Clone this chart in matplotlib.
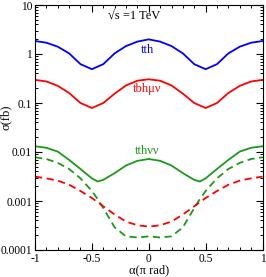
import numpy as np
import matplotlib
matplotlib.use("Agg")
import matplotlib.pyplot as plt
from matplotlib.ticker import MultipleLocator, LogLocator, NullFormatter, FixedLocator, FixedFormatter

plt.rcParams['font.family'] = ['Liberation Serif', 'DejaVu Serif']

# upper curves, sampled every 0.1
alpha_a_half = [-1.0, -0.9, -0.8, -0.7, -0.6, -0.5, -0.4, -0.3, -0.2, -0.1, 0.0]
tth_half = [1.84, 1.70, 1.41, 1.03, 0.62, 0.49, 0.62, 1.03, 1.45, 1.79, 1.99]
tbh_half = [0.297, 0.275, 0.224, 0.160, 0.100, 0.079, 0.100, 0.155, 0.228, 0.285, 0.305]

# lower curves
alpha_b_half = [-1.0, -0.9, -0.8, -0.7, -0.6, -0.5, -0.45, -0.4, -0.3, -0.2, -0.1, 0.0]
tthvv_half = [0.0131, 0.0122, 0.0102, 0.0069, 0.0045, 0.0029, 0.0025, 0.0027, 0.0037, 0.0053, 0.0066, 0.0072]
green_dash_half = [0.0078, 0.0072, 0.0060, 0.0045, 0.0029, 0.0016, 0.0011, 0.00072, 0.00029, 0.00019, 0.00018, 0.00019]
red_dash_half = [0.00314, 0.0029, 0.0026, 0.00215, 0.0016, 0.00115, 0.00095, 0.00078, 0.00053, 0.00038, 0.00032, 0.00030]

def mirror(a, sign=1):
    return list(a) + [sign * v for v in a[-2::-1]]

alpha_a = mirror(alpha_a_half, -1)
alpha_b = mirror(alpha_b_half, -1)
tth = mirror(tth_half)
tbh = mirror(tbh_half)
tthvv = mirror(tthvv_half)
green_dash = mirror(green_dash_half)
red_dash = mirror(red_dash_half)

fig = plt.figure(figsize=(2.66, 2.77), dpi=100)
ax = fig.add_axes([35/266, 27/277, 227.5/266, 245/277])

blue = '#0000ff'
red = '#ff0000'
green = '#1a9a1a'
lw = 1.3
ax.plot(alpha_a, tth, color=blue, lw=lw)
ax.plot(alpha_a, tbh, color=red, lw=lw)
ax.plot(alpha_b, tthvv, color=green, lw=lw)
ax.plot(alpha_b, green_dash, color=green, lw=lw, dashes=(4, 2.5))
ax.plot(alpha_b, red_dash, color=red, lw=lw, dashes=(4, 2.5))

ax.set_yscale('log')
ax.set_xlim(-1, 1)
ax.set_ylim(1e-4, 10)

ax.xaxis.set_major_locator(FixedLocator([-1, -0.5, 0, 0.5, 1]))
ax.xaxis.set_major_formatter(FixedFormatter(['-1', '-0.5', '0', '0.5', '1']))
ax.xaxis.set_minor_locator(MultipleLocator(0.1))
ax.yaxis.set_major_locator(FixedLocator([1e-4, 1e-3, 1e-2, 1e-1, 1, 10]))
ax.yaxis.set_major_formatter(FixedFormatter(['0.0001', '0.001', '0.01', '0.1', '1', '10']))
ax.yaxis.set_minor_locator(LogLocator(base=10, subs=np.arange(2, 10), numticks=20))
ax.yaxis.set_minor_formatter(NullFormatter())

ax.tick_params(which='both', direction='in', top=True, right=True, labelsize=8.3, pad=2)
ax.tick_params(which='major', length=5, width=0.8)
ax.tick_params(which='minor', length=2.5, width=0.7)
for s in ax.spines.values():
    s.set_linewidth(0.8)

ax.set_xlabel('α(π rad)', fontsize=9, labelpad=0)
ax.set_ylabel('σ(fb)', fontsize=9)
ax.yaxis.set_label_coords(-0.102, 0.54)

ax.text(-0.125, 5.9, '√s =1 TeV', fontsize=9, ha='center', va='center')
ax.text(-0.01, 1.2, 'tth', color=blue, fontsize=9, ha='center', va='center')
ax.text(-0.01, 0.19, 'tbhμν', color=red, fontsize=9, ha='center', va='center')
ax.text(-0.01, 0.0105, 'tthνν', color=green, fontsize=9, ha='center', va='center')

fig.savefig('out.png', dpi=100)
